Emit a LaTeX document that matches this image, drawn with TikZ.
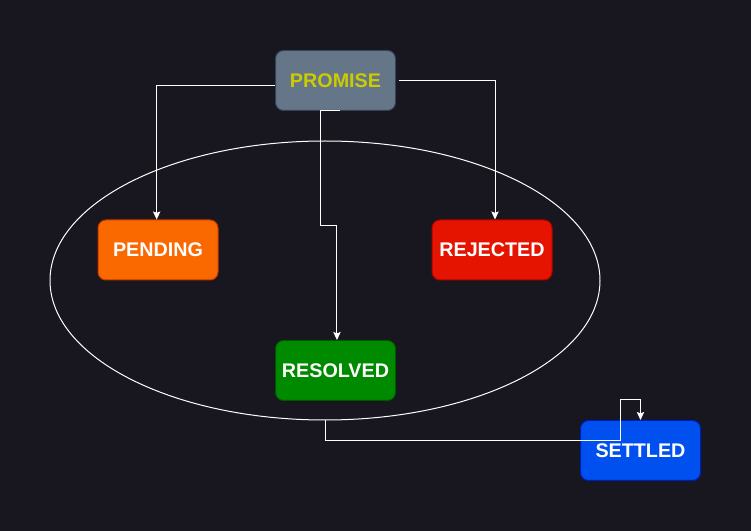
\documentclass[tikz,border=0pt]{standalone}
\usepackage{fontspec}
\setmainfont{Liberation Sans}
\usepackage{tikz}
\usetikzlibrary{arrows.meta,shapes.geometric}

\definecolor{bgcol}{HTML}{18161E}
\definecolor{promisefill}{HTML}{647687}
\definecolor{promisedraw}{HTML}{314354}
\definecolor{promisetext}{HTML}{CCCC00}
\definecolor{pendingfill}{HTML}{FA6800}
\definecolor{pendingdraw}{HTML}{C73500}
\definecolor{rejectedfill}{HTML}{E51400}
\definecolor{rejecteddraw}{HTML}{B20000}
\definecolor{resolvedfill}{HTML}{008A00}
\definecolor{resolveddraw}{HTML}{005700}
\definecolor{settledfill}{HTML}{0050EF}
\definecolor{settleddraw}{HTML}{001DBC}

\begin{document}
\begin{tikzpicture}[x=0.75pt, y=-0.75pt,
                    state node/.style={rectangle,rounded corners=6pt,draw,line width=0.75pt,
                      minimum width=90pt,minimum height=45pt,inner sep=0pt,text=white,
                      font=\bfseries\fontsize{14.8}{17}\selectfont},
                    link/.style={draw=white,line width=0.75pt,-{Stealth[length=6pt,width=5.5pt,inset=1pt]}}]

   \fill[bgcol] (0,0) rectangle (751,531);

   \node[ellipse,draw=white,line width=0.75pt,minimum width=412.5pt,minimum height=209.25pt,inner sep=0pt] (group) at (325,280.5) {};

   \node[state node,fill=promisefill,draw=promisedraw,text=promisetext] (promise) at (335.5,80.5) {PROMISE};
   \node[state node,fill=pendingfill,draw=pendingdraw] (pending) at (158,250) {PENDING};
   \node[state node,fill=rejectedfill,draw=rejecteddraw] (rejected) at (492,250) {REJECTED};
   \node[state node,fill=resolvedfill,draw=resolveddraw] (resolved) at (335.5,370.5) {RESOLVED};
   \node[state node,fill=settledfill,draw=settleddraw] (settled) at (640.5,450.5) {SETTLED};

   \coordinate (midbend) at (320.5,226);

   \draw[link] ([yshift=-4pt]promise.west) -| ([xshift=-1pt]pending.north);
   \draw[link] ([xshift=2pt]promise.east) -| ([xshift=2.25pt]rejected.north);
   \draw[link] ([xshift=3.4pt]promise.south) -- (320.5,111) -- (midbend) -| ([xshift=1.1pt]resolved.north);
   \draw[link] (group.south) -- ++(0,20) -| (620,400) -| (settled.north);

\end{tikzpicture}
\end{document}
